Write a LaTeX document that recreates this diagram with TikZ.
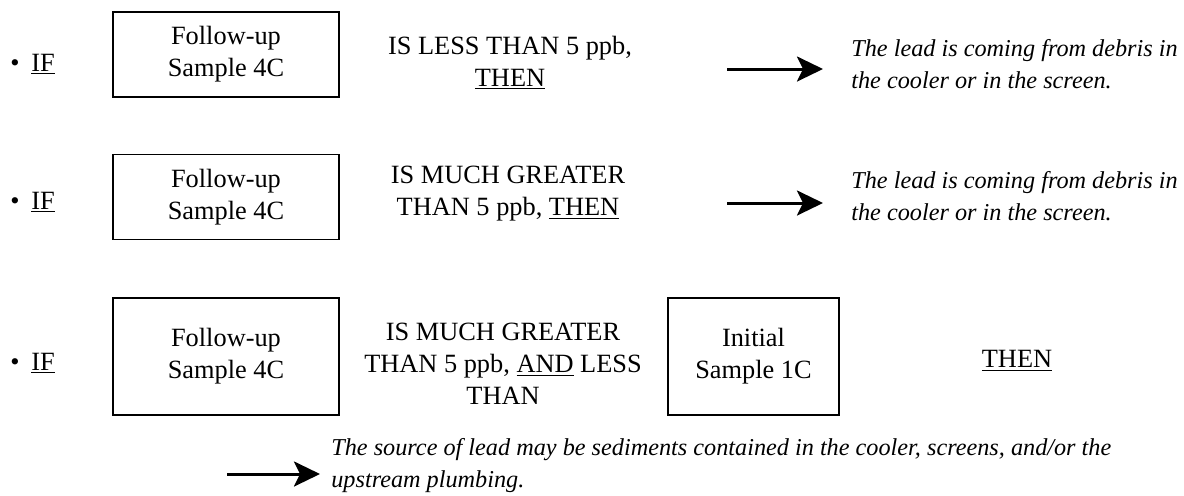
\documentclass[tikz,border=0pt]{standalone}
\usepackage{fontspec}
\setmainfont{Liberation Serif}
\usepackage{tikz}
\usetikzlibrary{arrows.meta}

\begin{document}
\begin{tikzpicture}[
			     x=0.02cm, y=-0.02cm,
			     font=\fontsize{15}{18.2}\selectfont,
			     sample/.style={draw, line width=1.1pt, align=center, inner sep=0pt, minimum width=4.52cm, minimum height=1.7cm},
			     cond/.style={align=center, inner sep=0pt},
			     result/.style={align=left, inner sep=0pt, anchor=west, font=\fontsize{13.8}{18.2}\selectfont\itshape},
			     iflabel/.style={anchor=base west, inner sep=0pt},
			     leads to/.style={-{Stealth[length=0.52cm, width=0.5cm, inset=0.12cm]}, line width=1.7pt}
			     ]
\useasboundingbox (0,0) rectangle (1184,495);
% first case
\node[iflabel] (if1) at (10,71) {\textbullet\hspace{0.45em}\underline{IF}};
\node[sample] (fu1) at (226,54.5) {Follow-up\\Sample 4C};
\node[cond] (c1) at (510,63) {IS LESS THAN 5 ppb,\\\underline{THEN}};
\coordinate (s1) at (727,69);
\coordinate (t1) at (823,69);
\node[result] (r1) at (851,64) {The lead is coming from debris in\\the cooler or in the screen.};
\draw[leads to] (s1) -- (t1);
% second case
\node[iflabel] (if2) at (10,209) {\textbullet\hspace{0.45em}\underline{IF}};
\node[sample] (fu2) at (226,197) {Follow-up\\Sample 4C};
\node[cond] (c2) at (508,194) {IS MUCH GREATER\\THAN 5 ppb, \underline{THEN}};
\coordinate (s2) at (727,203);
\coordinate (t2) at (823,203);
\node[result] (r2) at (851,196) {The lead is coming from debris in\\the cooler or in the screen.};
\draw[leads to] (s2) -- (t2);
% third case
\node[iflabel] (if3) at (10,370) {\textbullet\hspace{0.45em}\underline{IF}};
\node[sample, minimum height=2.34cm] (fu3) at (226,356.5) {Follow-up\\Sample 4C};
\node[cond] (c3) at (503,364) {IS MUCH GREATER\\THAN 5 ppb, \underline{AND} LESS\\THAN};
\node[sample, minimum width=3.42cm, minimum height=2.34cm] (in3) at (753.5,356.5) {Initial\\Sample 1C};
\node[cond] (th3) at (1017,361) {\underline{THEN}};
\coordinate (s3) at (227,474);
\coordinate (t3) at (320,474);
\node[result] (r3) at (331,466) {The source of lead may be sediments contained in the cooler, screens, and/or the\\upstream plumbing.};
\draw[leads to] (s3) -- (t3);
\end{tikzpicture}
\end{document}
